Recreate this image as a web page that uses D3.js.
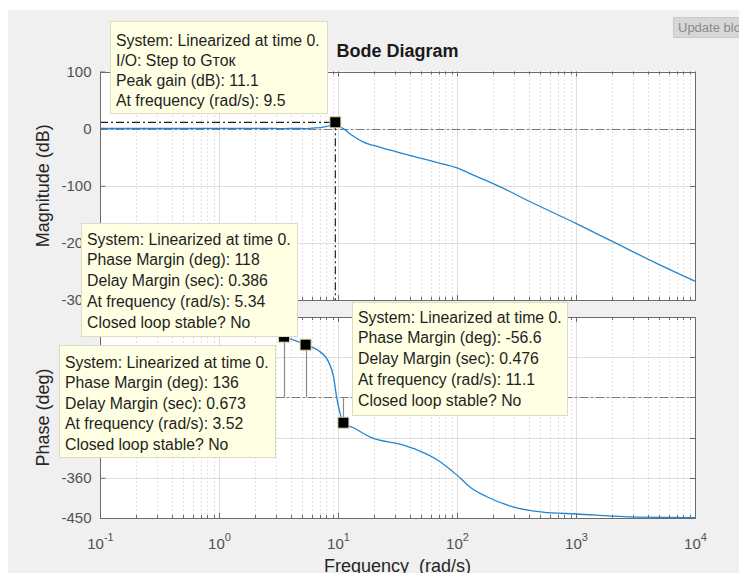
<!DOCTYPE html>
<html>
<head>
<meta charset="utf-8">
<script src="https://cdn.jsdelivr.net/npm/d3@7"></script>
<style>
  body { margin: 0; background: #ffffff; }
  svg { display: block; }
  text { font-family: "Liberation Sans", Arial, Helvetica, sans-serif; }
</style>
</head>
<body>
<svg id="chart" width="739" height="573"></svg>
<script>
// ---- Frequency response data ----
const freqMag  = [0.1, 0.3, 1, 2, 3, 3.52, 4.3, 5.34, 6.5, 7.5, 8.5, 9.5, 10.4, 11.1, 13, 16.4, 22, 31.6, 50, 70, 100, 136, 231, 413, 1000, 2000, 5000, 10000];
const magDb    = [0.2, 0.2, 0.3, 0.4, 0.3, 0, 0.4, 0, 1.2, 2.8, 5.5, 11.1, 3, 0, -11, -23.5, -32, -41, -52, -60, -68.7, -81, -102, -128, -166, -197, -238, -267];

const freqPhase = [0.1, 0.3, 1, 2, 3.52, 5.34, 6.75, 8.34, 9.18, 9.73, 10.4, 11.1, 13.5, 18.7, 35.5, 46.6, 68.5, 100, 129, 180, 295, 525, 1000, 3200, 10000];
const phaseDeg  = [-1, -4, -12, -24, -44, -62, -74, -101, -134, -179, -215, -236.6, -248, -269, -287, -298, -320, -354, -381, -403, -425, -437, -441, -448, -449];

// ---- Axis ticks ----
const magTicks = [100, 0, -100, -200, -300];
const phaseTicks = [0, -90, -180, -270, -360, -450];
const freqTickExponents = [-1, 0, 1, 2, 3, 4];

// ---- Characteristics shown in data tips ----
const systemName = "Linearized at time 0.";
const ioName = "Step to G\u0442\u043e\u043a";
const peakGain = { freq: 9.5, gainDb: 11.1 };
const marginFreqs  = [3.52, 5.34, 11.1];
const phaseMargins = [136, 118, -56.6];
const delayMargins = ["0.673", "0.386", "0.476"];

// ---- Layout ----
const svg = d3.select("#chart");
const W = 739, H = 573;
const left = 100, right = 695;
const magTop = 71.5, magBottom = 300;
const phTop = 317, phBottom = 518;

const x = d3.scaleLog().domain([0.1, 1e4]).range([left, right]);
const yMag = d3.scaleLinear().domain([-300, 100]).range([magBottom, magTop]);
const yPh = d3.scaleLinear().domain([-450, 0]).range([phBottom, phTop]);

const blue = "#2186d2";
const boxColor = "#6b6b6b";
const labelColor = "#505050";

// figure background
svg.append("rect").attr("width", W).attr("height", H).attr("fill", "#ffffff");
svg.append("rect").attr("x", 8).attr("y", 10).attr("width", W - 8).attr("height", H - 10).attr("fill", "#f0f0f0");

// button in the corner
svg.append("rect").attr("x", 673.5).attr("y", 17.5).attr("width", 80).attr("height", 20)
  .attr("fill", "#d7d7d7").attr("stroke", "#cacaca");
svg.append("text").attr("x", 678).attr("y", 32).attr("font-size", 13).attr("fill", "#8a8a8a").text("Update block");

// minor frequency positions
const minorFreqs = [];
for (let e = -1; e < 4; e++) for (let m = 2; m <= 9; m++) minorFreqs.push(m * Math.pow(10, e));
const majorFreqs = freqTickExponents.map(e => Math.pow(10, e));

function panel(y, top, bottom, ticks) {
  const g = svg.append("g");
  g.append("rect").attr("x", left).attr("y", top).attr("width", right - left).attr("height", bottom - top).attr("fill", "#ffffff");
  // minor vertical grid
  g.selectAll(".mg").data(minorFreqs).join("line")
    .attr("x1", d => Math.round(x(d)) + 0.5).attr("x2", d => Math.round(x(d)) + 0.5)
    .attr("y1", top).attr("y2", bottom)
    .attr("stroke", "#d8d8d8").attr("stroke-dasharray", "1.5,2.5").attr("stroke-width", 1);
  // major vertical grid
  g.selectAll(".Mg").data(majorFreqs.slice(1, -1)).join("line")
    .attr("x1", d => Math.round(x(d)) + 0.5).attr("x2", d => Math.round(x(d)) + 0.5)
    .attr("y1", top).attr("y2", bottom)
    .attr("stroke", "#dedede").attr("stroke-width", 1);
  // horizontal grid
  g.selectAll(".hg").data(ticks.filter(t => y(t) > top + 1 && y(t) < bottom - 1)).join("line")
    .attr("x1", left).attr("x2", right)
    .attr("y1", d => Math.round(y(d)) + 0.5).attr("y2", d => Math.round(y(d)) + 0.5)
    .attr("stroke", "#dedede").attr("stroke-width", 1);
  return g;
}

function frame(y, top, bottom, ticks) {
  const g = svg.append("g");
  // inward ticks on top and bottom edges
  [[top, 1], [bottom, -1]].forEach(([yy, dir]) => {
    g.selectAll(null).data(minorFreqs).join("line")
      .attr("x1", d => Math.round(x(d)) + 0.5).attr("x2", d => Math.round(x(d)) + 0.5)
      .attr("y1", yy).attr("y2", yy + dir * 3).attr("stroke", boxColor);
    g.selectAll(null).data(majorFreqs).join("line")
      .attr("x1", d => Math.round(x(d)) + 0.5).attr("x2", d => Math.round(x(d)) + 0.5)
      .attr("y1", yy).attr("y2", yy + dir * 5).attr("stroke", boxColor);
  });
  // inward ticks on the right edge
  g.selectAll(null).data(ticks).join("line")
    .attr("x1", right).attr("x2", right - 5)
    .attr("y1", d => Math.round(y(d)) + 0.5).attr("y2", d => Math.round(y(d)) + 0.5)
    .attr("stroke", boxColor);
  // left axis with labels (plain hyphen-minus, as in the plotting tool)
  const ax = g.append("g").attr("transform", `translate(${left + 0.5},0)`)
    .call(d3.axisLeft(y).tickValues(ticks).tickFormat(d => String(d))
      .tickSizeInner(-5).tickSizeOuter(0).tickPadding(9));
  ax.select(".domain").remove();
  ax.selectAll("line").attr("stroke", boxColor);
  ax.selectAll("text").attr("font-size", 15).attr("fill", labelColor)
    .attr("font-family", "\"Liberation Sans\", Arial, sans-serif");
  g.append("rect").attr("x", left + 0.5).attr("y", Math.round(top) + 0.5)
    .attr("width", right - left).attr("height", Math.round(bottom) - Math.round(top))
    .attr("fill", "none").attr("stroke", boxColor);
  return g;
}

function dashDot(x1, y1, x2, y2, color) {
  svg.append("line").attr("x1", x1).attr("y1", y1).attr("x2", x2).attr("y2", y2)
    .attr("stroke", color).attr("stroke-width", 1.2).attr("stroke-dasharray", "8,3,2,3");
}

// ---- Magnitude panel ----
panel(yMag, magTop, magBottom, magTicks);
dashDot(left, Math.round(yMag(0)) + 0.5, right, Math.round(yMag(0)) + 0.5, "#7a7a7a");
const peakX = x(peakGain.freq), peakY = yMag(peakGain.gainDb);
dashDot(left, peakY, peakX, peakY, "#222222");
dashDot(peakX, peakY, peakX, magBottom, "#222222");

const magLine = d3.line().x(d => x(d[0])).y(d => yMag(d[1])).curve(d3.curveMonotoneX);
svg.append("path").datum(freqMag.map((f, i) => [f, magDb[i]]))
  .attr("d", magLine).attr("fill", "none").attr("stroke", blue).attr("stroke-width", 1.3);
frame(yMag, magTop, magBottom, magTicks);

// ---- Phase panel ----
panel(yPh, phTop, phBottom, phaseTicks);
dashDot(left, Math.round(yPh(-180)) + 0.5, right, Math.round(yPh(-180)) + 0.5, "#7a7a7a");
const phLine = d3.line().x(d => x(d[0])).y(d => yPh(d[1])).curve(d3.curveMonotoneX);
svg.append("path").datum(freqPhase.map((f, i) => [f, phaseDeg[i]]))
  .attr("d", phLine).attr("fill", "none").attr("stroke", blue).attr("stroke-width", 1.3);
// stems from the -180 line to the phase at each crossover
marginFreqs.forEach((f, i) => {
  svg.append("line").attr("x1", Math.round(x(f)) + 0.5).attr("x2", Math.round(x(f)) + 0.5)
    .attr("y1", yPh(-180)).attr("y2", yPh(-180 + phaseMargins[i]))
    .attr("stroke", "#8a8a8a").attr("stroke-width", 1.2);
});
frame(yPh, phTop, phBottom, phaseTicks);

// frequency axis labels (10^n)
const xAx = svg.append("g").attr("transform", `translate(0,${phBottom})`)
  .call(d3.axisBottom(x).tickValues(majorFreqs).tickSize(0).tickFormat(() => ""));
xAx.select(".domain").remove();
xAx.selectAll(".tick text").each(function(d) {
  const t = d3.select(this).attr("y", 31).attr("dy", 0).attr("fill", labelColor).attr("font-size", 15)
    .attr("font-family", "\"Liberation Sans\", Arial, sans-serif");
  t.append("tspan").text("10");
  t.append("tspan").attr("font-size", 11).attr("dy", -8).text(String(Math.round(Math.log10(d))));
});

// axis titles
svg.append("text").attr("x", 397.5).attr("y", 57).attr("text-anchor", "middle")
  .attr("font-size", 18).attr("font-weight", "bold").attr("fill", "#1a1a1a").text("Bode Diagram");
svg.append("text").attr("x", 397.5).attr("y", 572).attr("text-anchor", "middle")
  .attr("font-size", 18).attr("fill", "#262626").style("white-space", "pre").text("Frequency  (rad/s)");
svg.append("text").attr("transform", `translate(49,${(magTop + magBottom) / 2}) rotate(-90)`)
  .attr("text-anchor", "middle").attr("font-size", 18).attr("fill", "#262626").text("Magnitude (dB)");
svg.append("text").attr("transform", `translate(49,${(phTop + phBottom) / 2}) rotate(-90)`)
  .attr("text-anchor", "middle").attr("font-size", 18).attr("fill", "#262626").text("Phase (deg)");

// ---- Data tip markers ----
function marker(cx, cy) {
  svg.append("rect").attr("x", cx - 5.5).attr("y", cy - 5.5).attr("width", 11).attr("height", 11)
    .attr("fill", "#000000").attr("stroke", "#d8d4b0").attr("stroke-width", 1);
}
marker(peakX, peakY);
marginFreqs.forEach((f, i) => marker(x(f), yPh(-180 + phaseMargins[i])));

// ---- Data tips ----
function tip(bx, by, bw, bh, baseline, step, lines) {
  const g = svg.append("g");
  g.append("rect").attr("x", bx + 0.5).attr("y", by + 0.5).attr("width", bw).attr("height", bh)
    .attr("fill", "#ffffe3").attr("stroke", "#dcdcc4").attr("stroke-width", 1);
  lines.forEach((s, i) => {
    g.append("text").attr("x", bx + 6).attr("y", by + baseline + i * step)
      .attr("font-size", 15.8).attr("fill", "#1e1e1e").text(s);
  });
}
function marginLines(i) {
  return [
    "System: " + systemName,
    "Phase Margin (deg): " + phaseMargins[i],
    "Delay Margin (sec): " + delayMargins[i],
    "At frequency (rad/s): " + marginFreqs[i],
    "Closed loop stable? No"
  ];
}
tip(110, 21, 217, 92, 24.5, 20, [
  "System: " + systemName,
  "I/O: " + ioName,
  "Peak gain (dB): " + peakGain.gainDb,
  "At frequency (rad/s): " + peakGain.freq
]);
tip(81, 223, 216, 113, 21.5, 20.75, marginLines(1));
tip(59, 345, 216, 112, 22.5, 20.5, marginLines(0));
tip(352, 302, 215, 113, 20.5, 20.75, marginLines(2));
</script>
</body>
</html>
